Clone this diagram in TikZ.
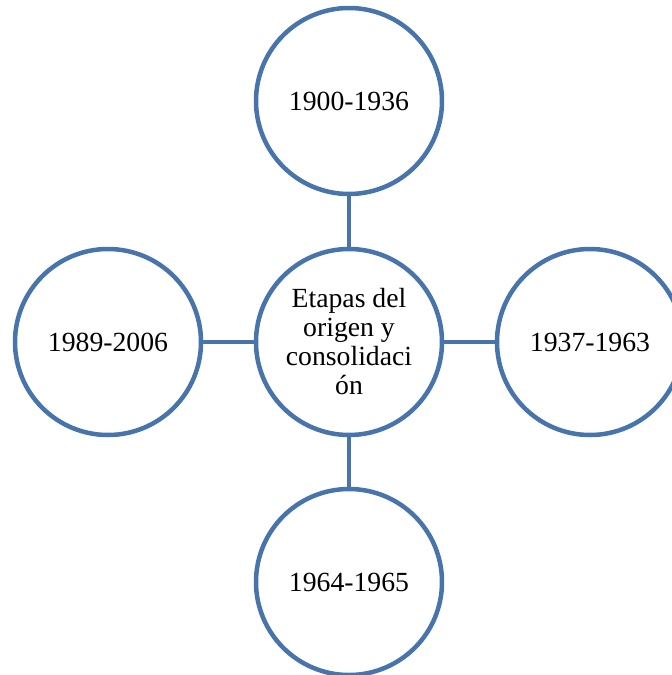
\documentclass[tikz,border=0pt]{standalone}
\usepackage{fontspec}
\setmainfont{Liberation Serif}
\definecolor{ringblue}{RGB}{72,116,172}
\begin{document}
\begin{tikzpicture}[x=1pt,y=-1pt,
  ring/.style={circle,draw=ringblue,line width=4.5pt,fill=white,minimum size=186pt,inner sep=0pt,
    font=\fontsize{27.7}{29}\selectfont,align=center},
  link/.style={draw=ringblue,line width=4.6pt}]
\useasboundingbox (0,0) rectangle (672,675);
\node[ring] (center) at (349,342) {Etapas del\\origen y\\consolidaci\\ón};
\node[ring] (top) at (349,101) {1900-1936};
\node[ring] (right) at (590,342) {1937-1963};
\node[ring] (bottom) at (349,582) {1964-1965};
\node[ring] (left) at (108,342) {1989-2006};
\draw[link] (center) -- (top);
\draw[link] (center) -- (right);
\draw[link] (center) -- (bottom);
\draw[link] (center) -- (left);
\end{tikzpicture}
\end{document}
